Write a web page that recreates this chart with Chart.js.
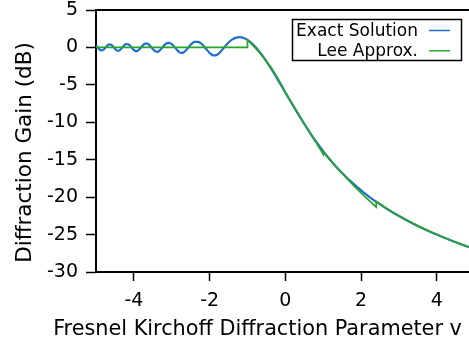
<!DOCTYPE html>
<html>
<head>
<meta charset="utf-8">
<script src="https://cdn.jsdelivr.net/npm/chart.js@4.4.1/dist/chart.umd.min.js"></script>
<style>
  html, body { margin: 0; padding: 0; background: #fff; }
  #c { display: block; }
</style>
</head>
<body>
<canvas id="c" width="469" height="345"></canvas>
<script>
// ---- data ----
const seriesLabels = ['Exact Solution', 'Lee Approx.'];
const seriesColors = ['#1f6fd1', '#2aa52a'];

const exactV = [
  -5.0, -4.95, -4.9, -4.85, -4.8, -4.75, -4.7, -4.65, -4.6, -4.55,
  -4.5, -4.45, -4.4, -4.35, -4.3, -4.25, -4.2, -4.15, -4.1, -4.05,
  -4.0, -3.95, -3.9, -3.85, -3.8, -3.75, -3.7, -3.65, -3.6, -3.55,
  -3.5, -3.45, -3.4, -3.35, -3.3, -3.25, -3.2, -3.15, -3.1, -3.05,
  -3.0, -2.95, -2.9, -2.85, -2.8, -2.75, -2.7, -2.65, -2.6, -2.55,
  -2.5, -2.4, -2.3, -2.2, -2.1, -2.0, -1.9, -1.8, -1.7, -1.6,
  -1.5, -1.4, -1.3, -1.2, -1.1, -1.0, -0.9, -0.8, -0.7, -0.6,
  -0.5, -0.4, -0.3, -0.2, -0.1, 0.0,
  0.1, 0.2, 0.3, 0.4, 0.5, 0.6, 0.7, 0.8, 0.9, 1.0,
  1.1, 1.2, 1.3, 1.4, 1.5, 1.6, 1.7, 1.8, 1.9, 2.0,
  2.25, 2.5, 2.75, 3.0, 3.25, 3.5, 3.75, 4.0, 4.25, 4.5, 4.85
];
const exactGain = [
  0.273, 0.005, -0.281, -0.412, -0.302, -0.025, 0.257, 0.404, 0.358, 0.137,
  -0.165, -0.400, -0.443, -0.267, 0.027, 0.299, 0.445, 0.415, 0.223, -0.070,
  -0.352, -0.504, -0.453, -0.228, 0.074, 0.341, 0.495, 0.497, 0.351, 0.091,
  -0.214, -0.471, -0.593, -0.532, -0.317, -0.020, 0.272, 0.492, 0.602, 0.584,
  0.444, 0.204, -0.094, -0.394, -0.628, -0.737, -0.694, -0.512, -0.239, 0.068,
  0.353, 0.731, 0.753, 0.423, -0.145, -0.737, -1.072, -0.972, -0.507, 0.099,
  0.659, 1.073, 1.309, 1.366, 1.257, 1.001, 0.616, 0.121, -0.466, -1.131,
  -1.859, -2.636, -3.452, -4.294, -5.155, -6.021,
  -6.887, -7.748, -8.596, -9.427, -10.233, -11.016, -11.771, -12.499, -13.198, -13.864,
  -14.502, -15.113, -15.693, -16.249, -16.778, -17.284, -17.764, -18.225, -18.665, -19.090,
  -20.083, -20.969, -21.779, -22.524, -23.211, -23.849, -24.445, -25.003, -25.527, -26.023, -26.674
];

const leeV = [
  -5.0, -1.0, -1.0, -0.9, -0.8, -0.7, -0.6, -0.5, -0.4, -0.3, -0.2, -0.1, 0.0,
  0.5, 1.0, 1.0, 1.2, 1.4, 1.6, 1.8, 2.0, 2.2, 2.4, 2.4,
  2.6, 2.8, 3.0, 3.25, 3.5, 3.75, 4.0, 4.25, 4.5, 4.85
];
const leeGain = [
  0.0, 0.0, 0.984, 0.490, -0.035, -0.593, -1.190, -1.830, -2.522, -3.273, -4.096, -5.005, -6.021,
  -10.147, -14.272, -13.979, -15.158, -16.282, -17.366, -18.416, -19.433, -20.412, -21.342, -20.560,
  -21.256, -21.899, -22.498, -23.194, -23.837, -24.437, -24.997, -25.524, -26.020, -26.671
];

const xTicks = [-4, -2, 0, 2, 4];
const yTicks = [-30, -25, -20, -15, -10, -5, 0, 5];
const xLabel = 'Fresnel Kirchoff Diffraction Parameter v';
const yLabel = 'Diffraction Gain (dB)';

// ---- chart ----
const FONT = 'DejaVu Sans';

const framePlugin = {
  id: 'frameAndLegend',
  afterDraw(chart) {
    const ctx = chart.ctx;
    const a = chart.chartArea;
    ctx.save();
    // top frame line
    ctx.strokeStyle = '#000';
    ctx.lineWidth = 2;
    ctx.beginPath();
    ctx.moveTo(a.left - 1, a.top);
    ctx.lineTo(chart.width, a.top);
    ctx.stroke();

    // axis titles (placed as in the reference, centred on the original full plot)
    ctx.fillStyle = '#000';
    ctx.textAlign = 'center';
    ctx.textBaseline = 'alphabetic';
    ctx.font = '20.8px "' + FONT + '"';
    ctx.fillText(xLabel, 257.5, 334.5);
    ctx.font = '21.5px "' + FONT + '"';
    ctx.save();
    ctx.translate(31, 152.5);
    ctx.rotate(-Math.PI / 2);
    ctx.fillText(yLabel, 0, 0);
    ctx.restore();

    // legend box
    const bx = 292.5, by = 19.5, bw = 169, bh = 41;
    ctx.fillStyle = '#fff';
    ctx.fillRect(bx, by, bw, bh);
    ctx.strokeStyle = '#000';
    ctx.lineWidth = 1.5;
    ctx.strokeRect(bx, by, bw, bh);
    ctx.font = '17px "' + FONT + '"';
    ctx.textAlign = 'right';
    ctx.textBaseline = 'middle';
    const rows = [30.5, 50.8];
    chart.data.datasets.forEach((ds, i) => {
      ctx.fillStyle = '#000';
      ctx.fillText(ds.label, 418, rows[i] + 1);
      ctx.strokeStyle = ds.borderColor;
      ctx.lineWidth = 1.5;
      ctx.beginPath();
      ctx.moveTo(429, rows[i]);
      ctx.lineTo(450, rows[i]);
      ctx.stroke();
    });
    ctx.restore();
  }
};

new Chart(document.getElementById('c'), {
  type: 'line',
  data: {
    datasets: [
      {
        label: seriesLabels[0],
        data: exactV.map((v, i) => ({ x: v, y: exactGain[i] })),
        borderColor: seriesColors[0],
        borderWidth: 2.2,
        pointRadius: 0,
        fill: false,
        cubicInterpolationMode: 'monotone',
        order: 1
      },
      {
        label: seriesLabels[1],
        data: leeV.map((v, i) => ({ x: v, y: leeGain[i] })),
        borderColor: seriesColors[1],
        borderWidth: 1.7,
        pointRadius: 0,
        fill: false,
        tension: 0,
        order: 0
      }
    ]
  },
  options: {
    responsive: false,
    animation: false,
    devicePixelRatio: 1,
    layout: { padding: { top: 10, right: 0, left: 0, bottom: 0 } },
    plugins: { legend: { display: false }, tooltip: { enabled: false } },
    scales: {
      x: {
        type: 'linear',
        position: 'bottom',
        min: -5,
        max: 4.85,
        afterBuildTicks: s => { s.ticks = xTicks.map(v => ({ value: v })); },
        afterFit: s => { s.height = 73; s.paddingLeft = 0; s.paddingRight = 0; },
        border: { display: true, color: '#000', width: 2 },
        grid: { display: true, drawOnChartArea: false, drawTicks: true, tickLength: 9, tickColor: '#000', tickWidth: 1.5 },
        ticks: { color: '#000', font: { family: FONT, size: 19 }, padding: 9, maxRotation: 0, autoSkip: false },
        title: { display: false }
      },
      y: {
        type: 'linear',
        position: 'left',
        min: -30,
        max: 5,
        afterBuildTicks: s => { s.ticks = yTicks.map(v => ({ value: v })); },
        afterFit: s => { s.width = 96; s.paddingTop = 0; s.paddingBottom = 0; },
        border: { display: true, color: '#000', width: 2 },
        grid: { display: true, drawOnChartArea: false, drawTicks: true, tickLength: 10, tickColor: '#000', tickWidth: 1.5 },
        ticks: { color: '#000', font: { family: FONT, size: 19 }, padding: 8, autoSkip: false },
        title: { display: false }
      }
    }
  },
  plugins: [framePlugin]
});
</script>
</body>
</html>
